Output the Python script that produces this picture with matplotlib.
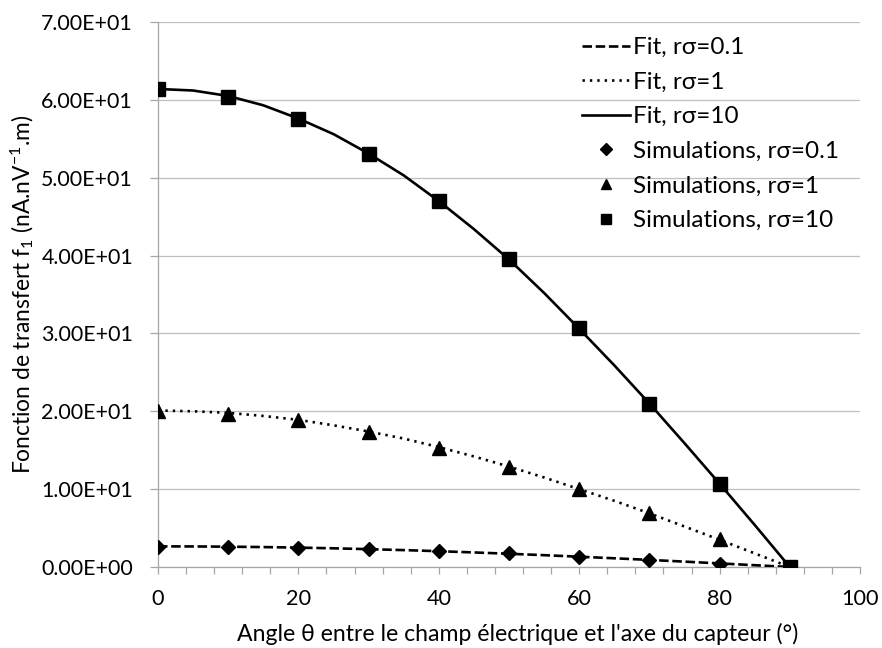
import matplotlib
matplotlib.use("Agg")
import matplotlib.pyplot as plt
from matplotlib.ticker import MultipleLocator, FuncFormatter

plt.rcParams['font.family'] = ['Lato', 'DejaVu Sans']
plt.rcParams['mathtext.fontset'] = 'custom'
plt.rcParams['mathtext.rm'] = 'Lato'
plt.rcParams['mathtext.it'] = 'Lato:italic'

# Simulation points
angles_sim = [0, 10, 20, 30, 40, 50, 60, 70, 80, 90]
sim_01 = [2.62, 2.60, 2.50, 2.27, 2.00, 1.75, 1.30, 0.90, 0.43, 0.0]
sim_1 = [20.1, 19.7, 18.9, 17.4, 15.3, 12.9, 10.0, 7.0, 3.55, 0.0]
sim_10 = [61.35, 60.4, 57.6, 53.1, 47.05, 39.6, 30.65, 20.9, 10.6, 0.05]

# Fit curves
angles_fit = [0, 5, 10, 15, 20, 25, 30, 35, 40, 45, 50, 55, 60, 65, 70, 75, 80, 85, 90]
fit_01 = [2.65, 2.64, 2.61, 2.56, 2.49, 2.40, 2.29, 2.17, 2.03, 1.87, 1.70, 1.52,
          1.32, 1.12, 0.91, 0.69, 0.46, 0.23, 0.0]
fit_1 = [20.1, 20.0, 19.8, 19.4, 18.9, 18.2, 17.4, 16.5, 15.4, 14.2, 12.9, 11.5,
         10.0, 8.5, 6.9, 5.2, 3.5, 1.75, 0.0]
fit_10 = [61.4, 61.2, 60.5, 59.3, 57.6, 55.6, 53.1, 50.3, 47.0, 43.4, 39.5, 35.2,
          30.6, 25.9, 21.0, 15.9, 10.7, 5.4, 0.0]

xlabel = "Angle θ entre le champ électrique et l'axe du capteur (°)"
ylabel = r"Fonction de transfert f$_\mathregular{1}$ (nA.nV$^\mathregular{-1}$.m)"

W, H = 882, 648
fig = plt.figure(figsize=(W/100, H/100), dpi=100)
ax = fig.add_axes([158/W, 1-567/H, (860-158)/W, (567-22)/H])

lw = 1.9
ax.plot(angles_fit, fit_01, color='black', lw=lw, linestyle=(0, (3.6, 1.4)),
        dash_capstyle='butt', label='Fit, rσ=0.1', zorder=3)
ax.plot(angles_fit, fit_1, color='black', lw=lw, linestyle=(0, (0.9, 1.9)),
        dash_capstyle='butt', label='Fit, rσ=1', zorder=3)
ax.plot(angles_fit, fit_10, color='black', lw=lw, linestyle='-',
        label='Fit, rσ=10', zorder=3)
ax.plot(angles_sim, sim_01, linestyle='none', marker='D', ms=7.5, color='black',
        label='Simulations, rσ=0.1', zorder=4)
ax.plot(angles_sim, sim_1, linestyle='none', marker='^', ms=10, color='black',
        label='Simulations, rσ=1', zorder=4)
ax.plot(angles_sim, sim_10, linestyle='none', marker='s', ms=9.5, color='black',
        label='Simulations, rσ=10', zorder=4)

ax.set_xlim(0, 100)
ax.set_ylim(0, 70)
ax.xaxis.set_major_locator(MultipleLocator(20))
ax.xaxis.set_minor_locator(MultipleLocator(4))
ax.yaxis.set_major_locator(MultipleLocator(10))
ax.yaxis.set_major_formatter(FuncFormatter(lambda v, p: f"{v:.2E}" if v != 0 else "0.00E+00"))

ax.grid(axis='y', color='#BFBFBF', lw=0.9, zorder=0)
for s in ['top', 'right']:
    ax.spines[s].set_visible(False)
for s in ['left', 'bottom']:
    ax.spines[s].set_color('#A6A6A6')
    ax.spines[s].set_linewidth(0.9)
ax.set_axisbelow(True)

ax.tick_params(axis='x', which='both', direction='out', length=5, width=0.9,
               color='#A6A6A6', labelsize=15.6, pad=11)
ax.tick_params(axis='y', which='major', direction='out', length=6, width=0.9,
               color='#A6A6A6', labelsize=15.4, pad=12)

ax.set_xlabel(xlabel, fontsize=16.6)
ax.xaxis.label.set_va('center')
ax.xaxis.set_label_coords((518-158)/702, (567-634)/545)
ax.set_ylabel(ylabel, fontsize=16.4)
ax.yaxis.label.set_va('center')
ax.yaxis.set_label_coords((22-158)/702, (567-294)/545)

leg = ax.legend(loc='upper left', bbox_to_anchor=(582/W, 1-37/H),
                bbox_transform=fig.transFigure, frameon=False,
                fontsize=17.5, handlelength=1.98, handletextpad=0.12,
                labelspacing=0.56, borderpad=0, borderaxespad=0, markerscale=0.75)

fig.savefig("out.png", dpi=100)
